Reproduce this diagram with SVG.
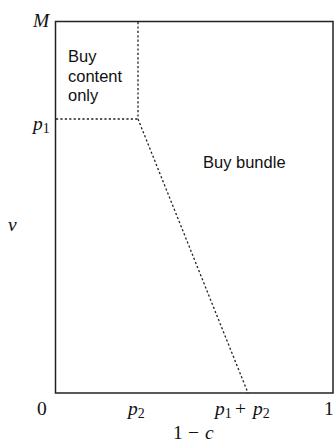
<svg xmlns="http://www.w3.org/2000/svg" width="335" height="443" viewBox="0 0 335 443">
<style>
.ax{font-family:"Liberation Serif",serif;font-size:19.5px;fill:#111}
.it{font-style:italic}
.sub{font-size:14px;font-style:normal}
.lb{font-family:"Liberation Sans",Arial,sans-serif;font-size:16.5px;fill:#111}
.dash{stroke:#222;stroke-width:1.3;stroke-dasharray:2.2,2.2;fill:none}
</style>
<rect x="0" y="0" width="335" height="443" fill="#fff"/>
<g id="frame"><rect x="55.5" y="21.5" width="277.5" height="371.5" fill="none" stroke="#222" stroke-width="1.5"/></g>
<g id="connectors">
<line class="dash" x1="138" y1="22" x2="138" y2="119"/>
<line class="dash" x1="56" y1="119" x2="138" y2="119"/>
<line class="dash" x1="138" y1="119" x2="248" y2="393"/>
</g>
<g id="region-content"><text class="lb" x="68" y="62">Buy</text><text class="lb" x="68" y="82">content</text><text class="lb" x="68" y="101">only</text></g>
<g id="region-bundle"><text class="lb" x="203" y="168">Buy bundle</text></g>
<g id="labels">
<text class="ax it" x="33" y="27">M</text>
<text class="ax it" x="33" y="130">p<tspan class="sub" dy="3">1</tspan></text>
<text class="ax it" x="8" y="231">v</text>
<text class="ax" x="37" y="415">0</text>
<text class="ax it" x="128" y="415">p<tspan class="sub" dy="3">2</tspan></text>
<text class="ax it" x="215" y="415">p<tspan class="sub" dy="3">1</tspan></text>
<text class="ax" x="235" y="415">+</text>
<text class="ax it" x="253" y="415">p<tspan class="sub" dy="3">2</tspan></text>
<text class="ax" x="324" y="415">1</text>
<text class="ax" x="173" y="439">1<tspan x="188">−</tspan><tspan x="205" font-style="italic">c</tspan></text>
</g>
</svg>
